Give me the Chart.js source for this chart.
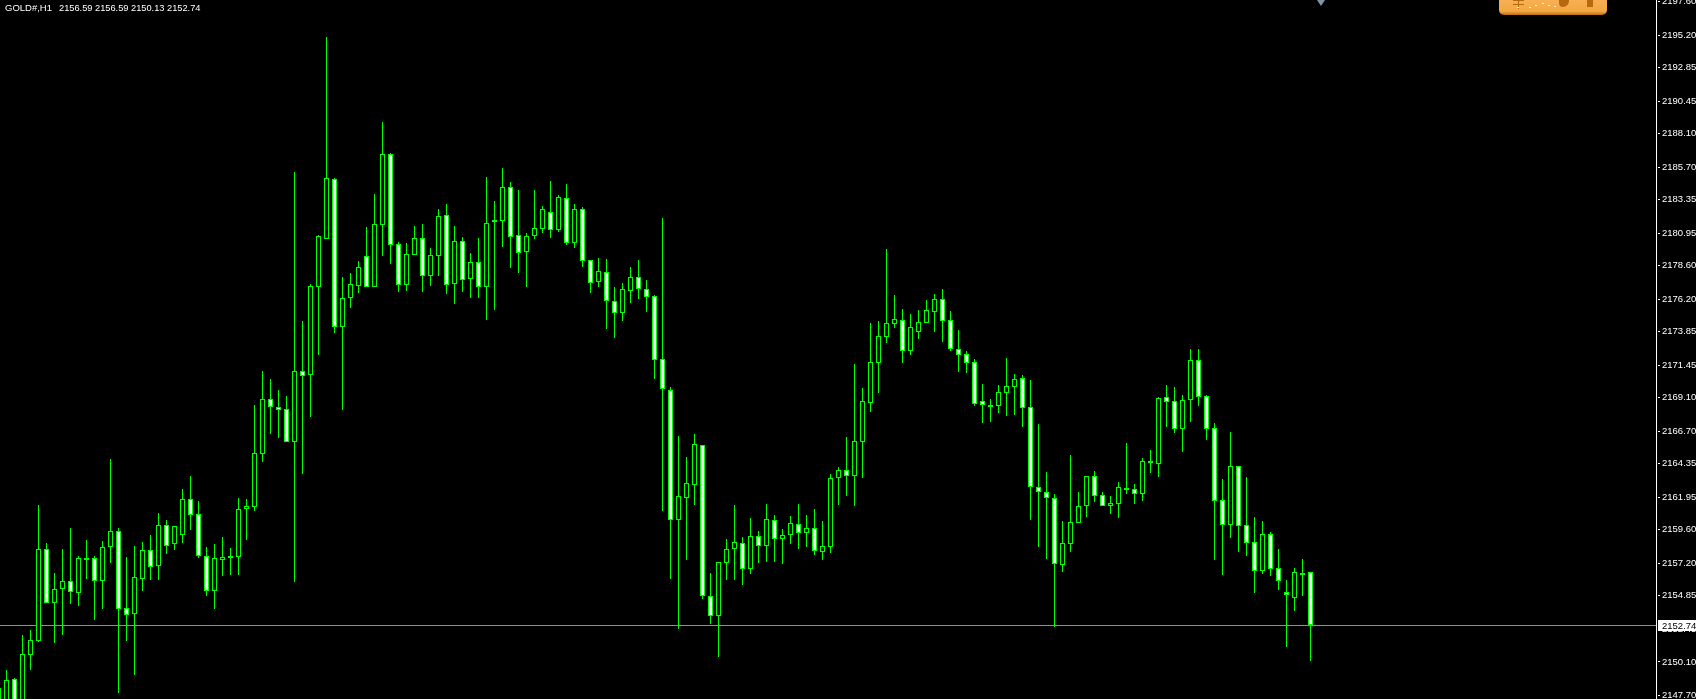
<!DOCTYPE html>
<html lang="en">
<head>
  <meta charset="UTF-8">
  <title>GOLD#,H1</title>
  <script src="https://cdn.jsdelivr.net/npm/chart.js"></script>
  <style>
    body {
      margin: 0;
      background-color: #000;
      overflow: hidden;
    }
    #wrap {
      position: relative;
      width: 1696px;
      height: 699px;
      overflow: hidden;
    }
    canvas {
      display: block;
    }
    #header {
      position: absolute;
      left: 5px;
      top: 1px;
      color: #fff;
      font: 9.5px/14px "Liberation Sans", sans-serif;
      white-space: pre;
    }
    #header span {
      font-size: 9.25px;
      margin-left: 7px;
    }
    #marker {
      position: absolute;
      left: 1317px;
      top: 0;
      border-left: 4px solid transparent;
      border-right: 4px solid transparent;
      border-top: 6px solid #7f93aa;
    }
    /* orange button cut off by the top of the window */
    #button {
      position: absolute;
      left: 1499px;
      top: -10px;
      width: 108px;
      height: 25px;
      border-radius: 5px;
      background: linear-gradient(#f9b760, #f4a743 85%, #b96f10);
      overflow: hidden;
    }
    #button div {
      position: absolute;
      background-color: #b8690f;
    }
    #button div.speck {
      background-color: #fff3dc;
      width: 2px;
      height: 1px;
    }
  </style>
</head>
<body>
  <div id="wrap">
    <canvas id="chart" width="1696" height="699"></canvas>
    <div id="header">GOLD#,H1<span>2156.59 2156.59 2150.13 2152.74</span></div>
    <div id="marker"></div>
    <div id="button">
      <div style="left:14px;top:10px;width:11px;height:1px"></div>
      <div style="left:14px;top:14px;width:11px;height:1px"></div>
      <div style="left:19px;top:10px;width:1px;height:9px"></div>
      <div class="speck" style="left:18px;top:17px"></div>
      <div class="speck" style="left:30px;top:17px"></div>
      <div class="speck" style="left:36px;top:15px"></div>
      <div class="speck" style="left:43px;top:13px"></div>
      <div class="speck" style="left:49px;top:15px"></div>
      <div class="speck" style="left:55px;top:16px"></div>
      <div style="left:60px;top:10px;width:10px;height:7px;border-radius:0 0 6px 4px"></div>
      <div style="left:88px;top:10px;width:6px;height:7px"></div>
    </div>
  </div>

  <script>
    const opens = [
      2146.6,2147.2,2148.85,2147.0,2150.62,2151.63,2158.2,2154.36,2155.33,2155.9,
      2155.08,2157.5,2157.56,2155.94,2158.35,2159.5,2153.96,2153.57,2156.09,2158.13,
      2157.02,2159.93,2158.61,2159.25,2161.8,2160.72,2157.7,2155.22,2157.45,2157.66,
      2157.67,2161.08,2161.27,2165.04,2169.0,2168.42,2168.27,2165.9,2171.01,2170.76,
      2177.09,2180.55,2184.82,2174.22,2176.3,2177.17,2179.28,2177.09,2181.55,2186.62,
      2180.15,2177.24,2179.4,2180.58,2177.89,2179.32,2182.23,2177.31,2180.36,2177.67,
      2178.85,2177.09,2181.73,2181.84,2184.25,2180.79,2179.61,2180.76,2181.22,2182.45,
      2181.2,2183.45,2180.26,2182.66,2178.99,2177.41,2178.13,2176.05,2175.22,2176.8,
      2177.77,2176.91,2176.4,2171.87,2169.64,2160.33,2161.92,2162.85,2165.68,2154.87,
      2153.43,2157.24,2158.25,2158.63,2156.81,2159.14,2158.46,2160.29,2158.97,2159.25,
      2160.0,2159.4,2159.71,2158.03,2158.39,2163.31,2163.89,2163.5,2165.94,2168.75,
      2171.63,2173.5,2174.43,2174.68,2172.49,2173.86,2174.5,2175.3,2176.19,2174.68,
      2172.59,2172.23,2171.66,2168.85,2168.55,2168.53,2169.47,2169.9,2170.5,2168.42,
      2162.66,2162.35,2161.87,2157.1,2158.61,2160.12,2161.34,2163.46,2162.09,2161.34,
      2161.48,2162.58,2162.56,2162.2,2164.53,2164.36,2169.14,2168.85,2166.88,2168.97,
      2171.8,2169.21,2166.91,2161.73,2159.97,2164.17,2159.93,2158.71,2156.66,2159.28,
      2156.84,2155.11,2154.72,2156.47,2156.59
    ];
    const highs = [
      2148.3,2149.5,2148.93,2152.04,2152.4,2161.39,2158.66,2156.5,2158.23,2159.74,
      2157.72,2158.87,2157.72,2158.8,2164.7,2159.74,2157.65,2158.44,2158.73,2159.23,
      2160.81,2160.31,2159.86,2162.54,2163.48,2161.68,2158.37,2158.58,2159.09,2158.3,
      2161.89,2161.82,2168.58,2171.03,2170.43,2169.66,2169.23,2185.35,2174.63,2177.29,
      2180.81,2195.06,2184.91,2177.79,2178.08,2178.94,2181.39,2183.76,2188.94,2186.69,
      2180.31,2180.24,2181.46,2181.6,2179.88,2182.68,2183.04,2181.46,2180.67,2179.52,
      2180.6,2184.99,2183.26,2185.63,2184.63,2184.05,2180.96,2184.05,2182.9,2184.7,
      2183.69,2184.48,2183.04,2182.83,2178.99,2179.16,2179.09,2177.05,2177.34,2178.49,
      2179.0,2177.58,2176.5,2182.04,2169.88,2166.35,2164.84,2166.5,2165.68,2156.5,
      2157.27,2158.94,2161.39,2159.09,2160.45,2159.52,2161.46,2160.67,2159.66,2160.6,
      2161.46,2160.67,2161.1,2160.24,2163.62,2164.12,2166.28,2171.53,2169.81,2174.48,
      2174.63,2179.81,2176.5,2175.49,2175.13,2175.42,2176.14,2176.57,2176.93,2175.35,
      2173.98,2172.47,2171.89,2170.09,2169.02,2170.02,2171.97,2170.81,2170.74,2170.38,
      2167.22,2163.76,2162.18,2160.24,2164.99,2162.33,2163.46,2163.84,2162.33,2162.04,
      2163.04,2165.85,2162.9,2164.77,2165.35,2169.16,2170.02,2169.88,2169.3,2172.61,
      2172.61,2169.3,2167.29,2163.26,2166.64,2164.17,2163.4,2160.53,2160.24,2159.45,
      2158.23,2156.0,2156.86,2157.5,2156.59
    ];
    const lows = [
      2146.5,2146.5,2146.5,2146.5,2149.52,2151.53,2154.36,2151.46,2152.04,2154.27,
      2154.12,2156.07,2153.12,2153.91,2157.22,2147.87,2151.6,2149.16,2155.2,2156.0,
      2156.0,2157.87,2158.15,2158.66,2159.59,2157.6,2154.84,2153.91,2156.28,2156.35,
      2156.35,2158.87,2160.96,2164.5,2166.52,2166.23,2165.9,2155.85,2163.64,2167.74,
      2172.18,2180.55,2173.76,2168.22,2175.56,2176.64,2177.09,2177.09,2179.3,2178.73,
      2176.71,2176.79,2179.4,2176.71,2177.14,2177.86,2176.57,2175.85,2176.71,2176.28,
      2176.28,2174.7,2175.42,2179.95,2178.44,2178.08,2177.07,2180.53,2180.96,2180.6,
      2181.03,2180.09,2179.88,2178.51,2176.64,2177.07,2174.05,2173.4,2174.63,2175.92,
      2176.21,2175.27,2170.45,2160.96,2156.07,2152.47,2157.43,2161.39,2154.63,2152.83,
      2150.45,2156.0,2156.0,2155.63,2156.43,2157.22,2157.29,2157.29,2157.15,2158.58,
      2158.23,2158.37,2157.79,2157.43,2157.94,2161.39,2162.04,2161.32,2163.33,2168.08,
      2169.45,2173.04,2174.12,2171.6,2172.18,2173.33,2174.5,2173.84,2173.12,2172.47,
      2170.96,2170.89,2168.51,2167.29,2167.36,2168.01,2167.79,2167.86,2167.0,2160.31,
      2158.37,2157.5,2152.63,2156.57,2158.01,2160.12,2160.53,2161.6,2161.34,2160.74,
      2160.45,2162.18,2161.46,2161.68,2163.69,2163.4,2167.0,2166.57,2165.2,2167.36,
      2168.51,2166.07,2157.43,2156.35,2159.02,2158.01,2157.72,2155.06,2156.43,2156.28,
      2155.27,2151.17,2153.76,2154.84,2150.13
    ];
    const closes = [
      2148.22,2148.8,2147.0,2150.65,2151.66,2158.2,2154.36,2155.33,2155.9,2155.15,
      2157.56,2157.56,2155.94,2158.35,2159.5,2153.93,2153.5,2156.19,2158.13,2156.95,
      2159.93,2158.46,2159.86,2161.8,2160.69,2157.74,2155.22,2157.56,2157.63,2157.7,
      2161.08,2161.3,2165.11,2169.0,2168.42,2168.2,2165.9,2171.01,2170.69,2177.12,
      2180.72,2184.89,2174.22,2176.26,2177.27,2178.49,2177.09,2181.58,2186.62,2180.12,
      2177.24,2179.43,2180.58,2177.89,2179.35,2182.16,2177.24,2180.36,2177.6,2178.85,
      2177.09,2181.66,2181.87,2184.25,2180.69,2179.54,2180.72,2181.3,2182.66,2181.2,
      2183.53,2180.26,2182.66,2178.97,2177.34,2178.2,2176.05,2175.22,2176.91,2177.77,
      2176.91,2176.37,2171.84,2169.71,2160.33,2162.02,2162.95,2165.76,2154.87,2153.43,
      2157.27,2158.2,2158.7,2156.81,2159.14,2158.46,2160.36,2158.97,2159.21,2160.07,
      2159.4,2159.71,2158.1,2158.42,2163.31,2163.89,2163.5,2165.97,2168.85,2171.66,
      2173.53,2174.46,2174.75,2172.49,2174.17,2174.53,2175.4,2176.19,2174.65,2172.63,
      2172.2,2171.63,2168.68,2168.6,2168.58,2169.5,2169.93,2170.43,2168.39,2162.71,
      2162.35,2161.92,2157.17,2158.63,2160.14,2161.3,2163.46,2162.06,2161.34,2161.51,
      2162.66,2162.61,2162.2,2164.53,2164.39,2169.07,2168.82,2166.88,2168.92,2171.8,
      2169.18,2166.88,2161.7,2159.97,2164.17,2159.9,2158.68,2156.66,2159.28,2156.81,
      2155.94,2154.89,2156.55,2156.5,2152.74
    ];
    const tickValues = [
      2197.60,2195.20,2192.85,2190.45,2188.10,2185.70,2183.35,2180.95,2178.60,2176.20,2173.85,
      2171.45,2169.10,2166.70,2164.35,2161.95,2159.60,2157.20,2154.85,2152.45,2150.10,2147.70
    ];
    const lastPrice = 2152.74;

    const GREEN = '#00ff00';
    const PRICE_LINE = '#8a8f98';
    const AXIS_FONT = { family: '"Liberation Sans", sans-serif', size: 9.5 };

    const index = opens.map((_, i) => i);
    const bodies = index.map(i => ({ x: i, y: [opens[i], closes[i]] }));
    const wicks = index.map(i => ({ x: i, y: [lows[i], highs[i]] }));
    const bodyFill = index.map(i => (closes[i] >= opens[i] ? '#000000' : '#ffffff'));

    // MT4 draws on whole pixels, so snap the bars the scale has placed
    const snapBars = {
      id: 'snapBars',
      beforeDatasetsDraw(chart) {
        chart.data.datasets.forEach((ds, d) => {
          const minHeight = ds.label === 'body' ? 2 : 1;
          chart.getDatasetMeta(d).data.forEach(bar => {
            const top = Math.round(Math.min(bar.y, bar.base));
            const bottom = Math.round(Math.max(bar.y, bar.base));
            bar.y = top;
            bar.base = Math.max(bottom, top + minHeight);
          });
        });
      }
    };

    // price line goes behind the candles, its label over the axis
    const priceLine = {
      id: 'priceLine',
      beforeDatasetsDraw(chart) {
        const { ctx, chartArea, scales } = chart;
        const y = Math.floor(scales.y.getPixelForValue(lastPrice)) + 0.5;
        ctx.save();
        ctx.strokeStyle = PRICE_LINE;
        ctx.lineWidth = 1;
        ctx.beginPath();
        ctx.moveTo(chartArea.left, y);
        ctx.lineTo(chartArea.right, y);
        ctx.stroke();
        ctx.restore();
      },
      afterDraw(chart) {
        const { ctx, chartArea, scales } = chart;
        const y = Math.floor(scales.y.getPixelForValue(lastPrice));
        ctx.save();
        ctx.fillStyle = '#ffffff';
        ctx.fillRect(chartArea.right + 2, y - 5, 38, 11);
        ctx.fillStyle = '#000000';
        ctx.font = AXIS_FONT.size + 'px ' + AXIS_FONT.family;
        ctx.textBaseline = 'middle';
        ctx.fillText(lastPrice.toFixed(2), chartArea.right + 6, y + 1);
        ctx.restore();
      }
    };

    new Chart(document.getElementById('chart'), {
      type: 'bar',
      data: {
        datasets: [
          {
            label: 'wick',
            data: wicks,
            backgroundColor: GREEN,
            barThickness: 1,
            borderWidth: 0,
            inflateAmount: 0,
            grouped: false,
            order: 2
          },
          {
            label: 'body',
            data: bodies,
            backgroundColor: bodyFill,
            borderColor: GREEN,
            borderWidth: 1,
            borderSkipped: false,
            barThickness: 5,
            inflateAmount: 0,
            grouped: false,
            order: 1
          }
        ]
      },
      options: {
        responsive: false,
        animation: false,
        events: [],
        layout: { padding: 0 },
        plugins: {
          legend: { display: false },
          tooltip: { enabled: false }
        },
        scales: {
          x: {
            type: 'linear',
            display: false,
            offset: false,
            min: 0.1875,
            max: 207.1875
          },
          y: {
            type: 'linear',
            position: 'right',
            min: 2147.43,
            max: 2197.72,
            afterBuildTicks(scale) {
              scale.ticks = tickValues.map(v => ({ value: v }));
            },
            afterFit(scale) {
              scale.width = 40;
              scale.paddingTop = 0;
              scale.paddingBottom = 0;
            },
            border: { color: '#ffffff', width: 1 },
            grid: {
              drawOnChartArea: false,
              drawTicks: true,
              tickLength: 4,
              tickColor: '#ffffff',
              tickBorderDash: [0, 1, 3, 99]
            },
            ticks: {
              color: '#ffffff',
              padding: 2,
              autoSkip: false,
              maxRotation: 0,
              font: AXIS_FONT,
              callback: v => v.toFixed(2)
            }
          }
        }
      },
      plugins: [priceLine, snapBars]
    });
  </script>
</body>
</html>
